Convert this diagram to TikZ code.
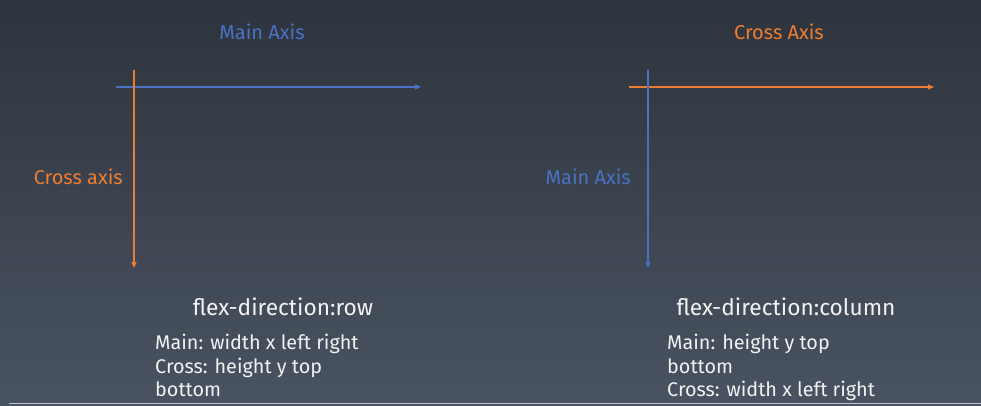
\documentclass[tikz,border=0pt]{standalone}
\usepackage{fontspec}
\setmainfont{Fira Sans}
\usetikzlibrary{arrows.meta}
\definecolor{axisblue}{RGB}{74,114,196}
\definecolor{axisorange}{RGB}{237,125,49}
\definecolor{bgtop}{RGB}{46,52,61}
\definecolor{bgbottom}{RGB}{73,83,97}
\definecolor{bodytext}{RGB}{242,242,242}

\begin{document}
\begin{tikzpicture}[x=1pt,y=-1pt]
				\tikzset{axis/.style={line width=1.2pt,-{Triangle[length=6pt,width=5pt]}}}
				\tikzset{axislabel/.style={font=\fontsize{20}{23}\selectfont,inner sep=0pt}}
				\tikzset{title/.style={font=\fontsize{22.7}{26}\selectfont,text=bodytext,inner sep=0pt}}
				\tikzset{body/.style={font=\fontsize{19.8}{23.6}\selectfont,text=bodytext,align=left,anchor=north west,inner sep=0pt}}
				\shade[top color=bgtop,bottom color=bgbottom] (0,0) rectangle (981,406);
				\useasboundingbox (0,0) rectangle (981,406);
				\draw[bodytext!70!bgbottom,line width=1pt] (9,403.5) -- (981,403.5);
				% flex-direction: row
				\coordinate (rowh1) at (116,87); \coordinate (rowh2) at (421,87);
				\coordinate (rowv1) at (134,70); \coordinate (rowv2) at (134,268);
				\draw[axis,axisblue] (rowh1) -- (rowh2);
				\draw[axis,axisorange] (rowv1) -- (rowv2);
				\node[axislabel,text=axisblue] (rowmain) at (262,32) {Main Axis};
				\node[axislabel,text=axisorange,anchor=east] (rowcross) at (123,177) {Cross axis};
				\node[title] (rowtitle) at (283,307) {flex-direction:row};
				\node[body] (rowbody) at (155,334) {Main: width x left right\\Cross: height y top\\bottom};
				% flex-direction: column
				\coordinate (colh1) at (629,87); \coordinate (colh2) at (934,87);
				\coordinate (colv1) at (648,70); \coordinate (colv2) at (648,268);
				\draw[axis,axisorange] (colh1) -- (colh2);
				\draw[axis,axisblue] (colv1) -- (colv2);
				\node[axislabel,text=axisorange] (colcross) at (779,32) {Cross Axis};
				\node[axislabel,text=axisblue,anchor=east] (colmain) at (631,177) {Main Axis};
				\node[title] (coltitle) at (786,307) {flex-direction:column};
				\node[body] (colbody) at (667,334) {Main: height y top\\bottom\\Cross: width x left right};
			\end{tikzpicture}
\end{document}
